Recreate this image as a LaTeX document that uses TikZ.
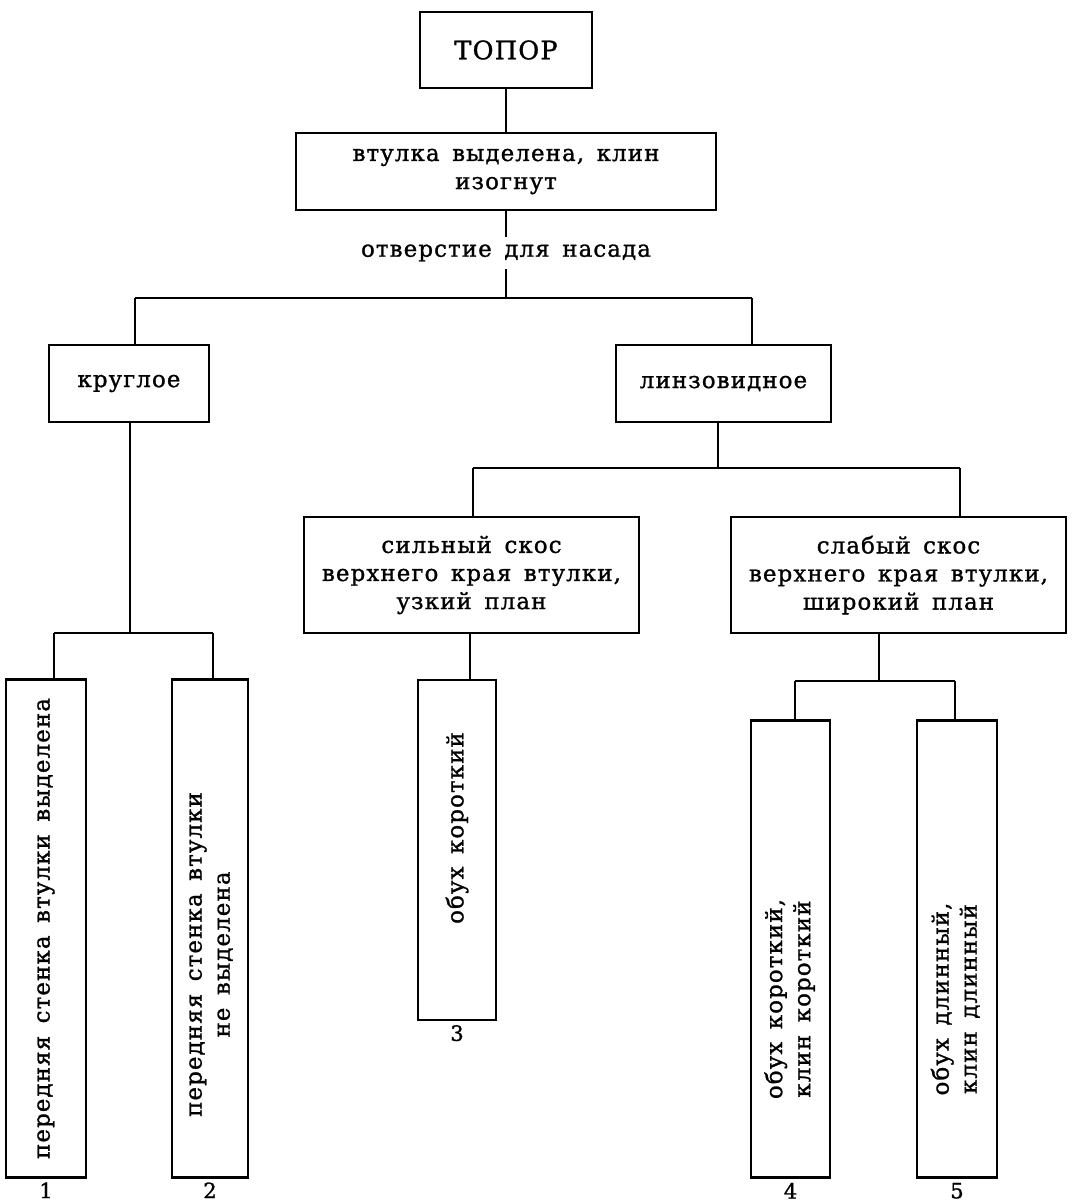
\documentclass[tikz,border=0pt]{standalone}
\usepackage{fontspec}
\setmainfont{DejaVu Serif}[LetterSpace=5.0,WordSpace={1.5},FakeBold=1.2]
\usepackage{tikz}
\usetikzlibrary{positioning}
\newcommand{\vlines}[1]{\begin{tabular}{@{}c@{}}#1\end{tabular}}
\tikzset{
  every node/.style={
    font=\fontsize{13}{16}\selectfont
  },
  box/.style={
    draw, line width=1.5pt, inner sep=0pt, align=center
  },
  tallbox/.style={
    draw, line width=1.5pt, inner sep=0pt, align=center, rotate=90
  },
  num/.style={
    inner sep=0pt, font=\fontsize{12}{12}\selectfont
  },
  link/.style={
    line width=1.5pt
  }
}

\begin{document}
\begin{tikzpicture}
      \useasboundingbox (0,0) rectangle (21.5,-24.08);
      \node [box, minimum width=3.44cm, minimum height=1.52cm, font=\fontsize{14.5}{16}\selectfont] (Axe) at (10.12,-1.0) {ТОПОР};
      \node [box, on grid, below=2.43cm of Axe, minimum width=8.4cm, minimum height=1.54cm] (Sleeve) {втулка выделена, клин\\изогнут};
      \node [on grid, below=1.63cm of Sleeve, inner sep=4pt] (Hole) {отверстие для насада};
      \node [box, on grid, below left=2.61cm and 7.54cm of Hole, minimum width=3.2cm, minimum height=1.54cm] (Round) {круглое};
      \node [box, on grid, below right=2.61cm and 4.35cm of Hole, minimum width=4.3cm, minimum height=1.54cm] (Lens) {линзовидное};
      \node [box, on grid, below left=3.83cm and 5.04cm of Lens, minimum width=6.7cm, minimum height=2.32cm] (Strong) {сильный скос\\верхнего края втулки,\\узкий план};
      \node [box, on grid, below right=3.83cm and 3.50cm of Lens, minimum width=6.7cm, minimum height=2.32cm] (Weak) {слабый скос\\верхнего края втулки,\\широкий план};
      \node [tallbox, on grid, below left=10.90cm and 1.66cm of Round, minimum width=9.95cm, minimum height=1.6cm] (Front) {передняя стенка втулки выделена};
      \node [tallbox, on grid, below right=10.90cm and 1.62cm of Round, minimum width=9.95cm, minimum height=1.52cm] (NoFront) {\vlines{передняя стенка втулки\\не выделена}\hspace{1.04cm}};
      \node [tallbox, on grid, below left=5.5cm and 0.29cm of Strong, minimum width=6.8cm, minimum height=1.56cm] (Butt) {\hspace{0.88cm}обух короткий};
      \node [tallbox, on grid, below left=7.48cm and 2.16cm of Weak, minimum width=9.15cm, minimum height=1.58cm] (ShortButt) {\vlines{обух короткий,\\клин короткий}\hspace{2cm}};
      \node [tallbox, on grid, below right=7.48cm and 1.17cm of Weak, minimum width=9.15cm, minimum height=1.6cm] (LongButt) {\vlines{обух длинный,\\клин длинный}\hspace{2cm}};
      \node [num, below=2pt of Front.west] (One) {1};
      \node [num, below=2pt of NoFront.west] (Two) {2};
      \node [num, below=2pt of Butt.west] (Three) {3};
      \node [num, below=2pt of ShortButt.west] (Four) {4};
      \node [num, below=2pt of LongButt.west] (Five) {5};
      \coordinate (HoleL) at (2.70,-5.96);
      \coordinate (HoleR) at (15.04,-5.96);
      \coordinate (RoundJ) at (2.60,-12.66);
      \coordinate (RoundL) at (1.08,-12.66);
      \coordinate (RoundR) at (4.26,-12.66);
      \coordinate (LensJ) at (14.36,-9.36);
      \coordinate (LensL) at (9.46,-9.36);
      \coordinate (LensR) at (19.20,-9.36);
      \coordinate (StrongJ) at (9.40,0);
      \coordinate (WeakJ) at (17.58,-13.62);
      \coordinate (WeakL) at (15.90,-13.62);
      \coordinate (WeakR) at (19.10,-13.62);
      \draw [link] (Axe) -- (Sleeve);
      \draw [link] (Sleeve) -- (Hole);
      \draw [link] (Hole) -- (Hole |- HoleL);
      \draw [link] (HoleL) -- (HoleR);
      \draw [link] (HoleL) -- (HoleL |- Round.north);
      \draw [link] (HoleR) -- (HoleR |- Lens.north);
      \draw [link] (RoundJ |- Round.south) -- (RoundJ);
      \draw [link] (RoundL) -- (RoundR);
      \draw [link] (RoundL) -- (RoundL |- Front.east);
      \draw [link] (RoundR) -- (RoundR |- NoFront.east);
      \draw [link] (LensJ |- Lens.south) -- (LensJ);
      \draw [link] (LensL) -- (LensR);
      \draw [link] (LensL) -- (LensL |- Strong.north);
      \draw [link] (LensR) -- (LensR |- Weak.north);
      \draw [link] (StrongJ |- Strong.south) -- (StrongJ |- Butt.east);
      \draw [link] (WeakJ |- Weak.south) -- (WeakJ);
      \draw [link] (WeakL) -- (WeakR);
      \draw [link] (WeakL) -- (WeakL |- ShortButt.east);
      \draw [link] (WeakR) -- (WeakR |- LongButt.east);
    \end{tikzpicture}
\end{document}
